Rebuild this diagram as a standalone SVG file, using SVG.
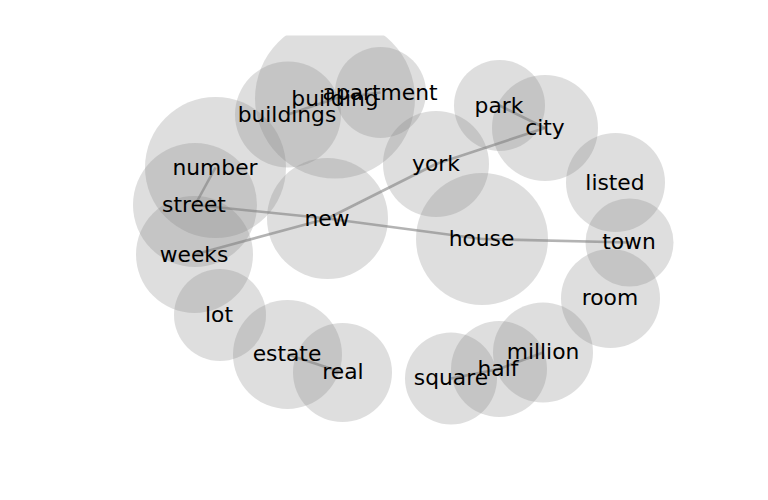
<svg xmlns="http://www.w3.org/2000/svg" width="768" height="500" viewBox="0 0 768 500">
<style>
.n circle{fill:#808080;fill-opacity:0.26}
.n text{font-family:"DejaVu Sans",sans-serif;font-size:21.8px;fill:#000;text-anchor:middle}
#edges line{stroke:#808080;stroke-opacity:0.6;stroke-width:2.6;stroke-linecap:butt}
</style>
<defs><clipPath id="ax"><rect x="0" y="35.5" width="768" height="430"/></clipPath></defs>
<rect width="768" height="500" fill="#fff"/>
<g id="circles" clip-path="url(#ax)">
<g id="c-building" class="n"><circle cx="335" cy="98.5" r="80"/></g>
<g id="c-apartment" class="n"><circle cx="380.5" cy="92.5" r="45.5"/></g>
<g id="c-buildings" class="n"><circle cx="288" cy="114.5" r="53"/></g>
<g id="c-number" class="n"><circle cx="215.5" cy="167.5" r="70.5"/></g>
<g id="c-street" class="n"><circle cx="195" cy="205" r="62"/></g>
<g id="c-weeks" class="n"><circle cx="194.5" cy="254.5" r="58.5"/></g>
<g id="c-new" class="n"><circle cx="327.5" cy="218.5" r="60.5"/></g>
<g id="c-york" class="n"><circle cx="436" cy="164" r="53"/></g>
<g id="c-park" class="n"><circle cx="499.5" cy="105.5" r="45.5"/></g>
<g id="c-city" class="n"><circle cx="545" cy="128" r="53"/></g>
<g id="c-listed" class="n"><circle cx="615.5" cy="182.5" r="49.5"/></g>
<g id="c-town" class="n"><circle cx="629.5" cy="242.5" r="44"/></g>
<g id="c-house" class="n"><circle cx="482" cy="239" r="66"/></g>
<g id="c-room" class="n"><circle cx="610.5" cy="298.5" r="49.5"/></g>
<g id="c-lot" class="n"><circle cx="220" cy="315" r="46"/></g>
<g id="c-estate" class="n"><circle cx="287.5" cy="354.5" r="54.5"/></g>
<g id="c-real" class="n"><circle cx="342.5" cy="372.5" r="49.5"/></g>
<g id="c-square" class="n"><circle cx="451" cy="378.5" r="46"/></g>
<g id="c-half" class="n"><circle cx="499" cy="369" r="48"/></g>
<g id="c-million" class="n"><circle cx="543" cy="352.5" r="50"/></g>
</g>
<g id="edges">
<line x1="335" y1="98.5" x2="288" y2="114.5"/>
<line x1="335" y1="98.5" x2="380.5" y2="92.5"/>
<line x1="215.5" y1="167.5" x2="195" y2="205"/>
<line x1="195" y1="205" x2="327.5" y2="218.5"/>
<line x1="327.5" y1="218.5" x2="482" y2="239"/>
<line x1="327.5" y1="218.5" x2="194.5" y2="254.5"/>
<line x1="327.5" y1="218.5" x2="436" y2="164"/>
<line x1="436" y1="164" x2="545" y2="128"/>
<line x1="499.5" y1="105.5" x2="545" y2="128"/>
<line x1="482" y1="239" x2="629.5" y2="242.5"/>
<line x1="287.5" y1="354.5" x2="342.5" y2="372.5"/>
<line x1="451" y1="378.5" x2="499" y2="369"/>
<line x1="499" y1="369" x2="543" y2="352.5"/>
</g>
<g id="labels" class="n">
<g id="building"><text x="335" y="106">building</text></g>
<g id="apartment"><text x="380" y="100">apartment</text></g>
<g id="buildings"><text x="287" y="122">buildings</text></g>
<g id="number"><text x="215" y="175">number</text></g>
<g id="street"><text x="194" y="212">street</text></g>
<g id="weeks"><text x="194" y="262">weeks</text></g>
<g id="new"><text x="327" y="226">new</text></g>
<g id="york"><text x="436" y="171">york</text></g>
<g id="park"><text x="499" y="113">park</text></g>
<g id="city"><text x="545" y="135">city</text></g>
<g id="listed"><text x="615" y="190">listed</text></g>
<g id="town"><text x="629" y="249">town</text></g>
<g id="house"><text x="481.5" y="246">house</text></g>
<g id="room"><text x="610" y="305">room</text></g>
<g id="lot"><text x="219" y="322">lot</text></g>
<g id="estate"><text x="287" y="361">estate</text></g>
<g id="real"><text x="343" y="379">real</text></g>
<g id="square"><text x="451" y="385">square</text></g>
<g id="half"><text x="498" y="376">half</text></g>
<g id="million"><text x="543" y="359">million</text></g>
</g>
</svg>
